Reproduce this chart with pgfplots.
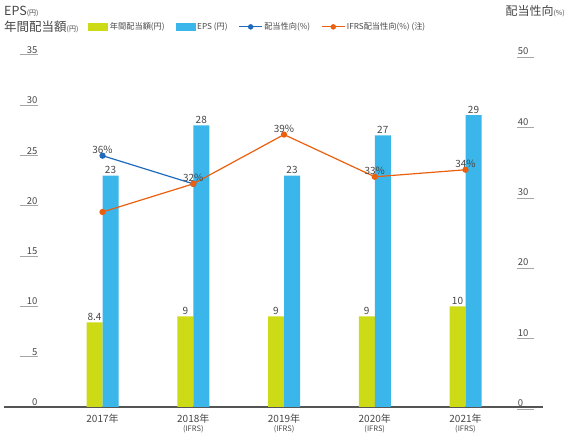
\documentclass[border=0pt]{standalone}
\usepackage{fontspec}
\setmainfont{Noto Sans CJK JP}
\usepackage{pgfplots}
\pgfplotsset{compat=1.18}
\definecolor{ybarc}{RGB}{205,218,22}
\definecolor{bbarc}{RGB}{59,182,234}
\definecolor{blinec}{RGB}{32,106,190}
\definecolor{olinec}{RGB}{235,96,14}
\definecolor{txt}{RGB}{70,70,70}
\definecolor{axc}{RGB}{85,85,85}
\newcommand{\fs}[1]{\fontsize{#1}{#1}\selectfont}
\begin{document}
\begin{tikzpicture}[x=1pt,y=1pt]
\useasboundingbox (0,0) rectangle (566,432);
\begin{axis}[
 name=main,
 at={(4,25)}, anchor=south west, scale only axis, width=539pt, height=352pt,
 xmin=-1.09, xmax=4.85, ymin=0, ymax=35,
 axis x line*=bottom, axis y line*=left,
 x axis line style={-, draw=axc, line width=1.3pt},
 y axis line style={draw=none},
 xtick={0,1,2,3,4},
 xticklabels={2017年, {2018年\\[-1.5pt]{\fs{7.5}(IFRS)}}, {2019年\\[-1.5pt]{\fs{7.5}(IFRS)}}, {2020年\\[-1.5pt]{\fs{7.5}(IFRS)}}, {2021年\\[-1.5pt]{\fs{7.5}(IFRS)}}},
 xtick style={draw=none},
 xticklabel style={align=center, font=\fs{10}, text=txt, yshift=14pt},
 ytick={0,5,...,35},
 tick align=inside, major tick length=18pt,
 ytick style={xshift=16pt, draw=gray!70, line width=0.8pt},
 yticklabel style={anchor=south east, xshift=35pt, inner sep=1pt, font=\fs{9.5}, text=txt},
 /pgf/number format/assume math mode=true,
 ybar, bar width=16pt,
 nodes near coords,
 every node near coord/.append style={font=\fs{10}, text=txt, inner sep=1.5pt},
 legend style={at={(0.157,1.0795)}, anchor=west, draw=none, fill=none,
   font=\fs{8.2}, text=txt, legend columns=4, inner sep=0pt,
   nodes={inner sep=1.5pt},
   /tikz/every even column/.append style={column sep=9.5pt}},
 legend cell align=left,
]
\addplot[fill=ybarc, draw=none, bar shift=-8pt,
  legend image code/.code={\fill[ybarc] (0pt,-4pt) rectangle (20pt,4pt);}] coordinates {(0,8.4) (1,9) (2,9) (3,9) (4,10)};
\addlegendentry{年間配当額(円)}
\addplot[fill=bbarc, draw=none, bar shift=8pt,
  legend image code/.code={\fill[bbarc] (0pt,-4pt) rectangle (20pt,4pt);}] coordinates {(0,23) (1,28) (2,23) (3,27) (4,29)};
\addlegendentry{EPS (円)}
\addlegendimage{legend image code/.code={\draw[blinec, line width=1.2pt] (0pt,0pt) -- (23pt,0pt); \fill[blinec] (11.5pt,0pt) circle (2.5pt);}}
\addlegendentry{配当性向(\%)}
\addlegendimage{legend image code/.code={\draw[olinec, line width=1.2pt] (0pt,0pt) -- (23pt,0pt); \fill[olinec] (11.5pt,0pt) circle (2.5pt);}}
\addlegendentry{IFRS配当性向(\%) (注)}
\end{axis}
\begin{axis}[
 at={(4,32.5)}, anchor=south west, scale only axis, width=539pt, height=352pt,
 xmin=-1.09, xmax=4.85, ymin=0, ymax=50,
 axis x line*=bottom, x axis line style={draw=none}, xtick=\empty,
 axis y line*=right,
 y axis line style={draw=none},
 ytick={0,10,...,50},
 tick align=inside, major tick length=17pt,
 ytick style={xshift=-9pt, draw=gray!70, line width=0.8pt},
 yticklabel style={anchor=south west, xshift=-26pt, yshift=1pt, inner sep=1pt, font=\fs{9.5}, text=txt},
 /pgf/number format/assume math mode=true,
 point meta=explicit symbolic,
 nodes near coords,
 every node near coord/.append style={font=\fs{10}, text=txt, inner sep=1.5pt, anchor=south},
]
\addplot[blinec, line width=1.2pt, mark=*, mark size=2.5pt, mark options={fill=blinec, draw=blinec}]
  coordinates {(0,36)[36\%] (1,32)[]};
\addplot[olinec, line width=1.2pt, mark=*, mark size=2.5pt, mark options={fill=olinec, draw=olinec}]
  coordinates {(0,28)[] (1,32)[32\%] (2,39)[39\%] (3,33)[33\%] (4,34)[34\%]};
\end{axis}
\node[anchor=base west, inner sep=0, text=txt] at (4,416) {\fs{12.5}EPS{\fs{7}(円)}};
\node[anchor=base west, inner sep=0, text=txt] at (4,400) {\fs{12.5}年間配当額{\fs{7}(円)}};
\node[anchor=base east, inner sep=0, text=txt] at (565,416) {\fs{12}配当性向{\fs{7}(\%)}};
\end{tikzpicture}
\end{document}
